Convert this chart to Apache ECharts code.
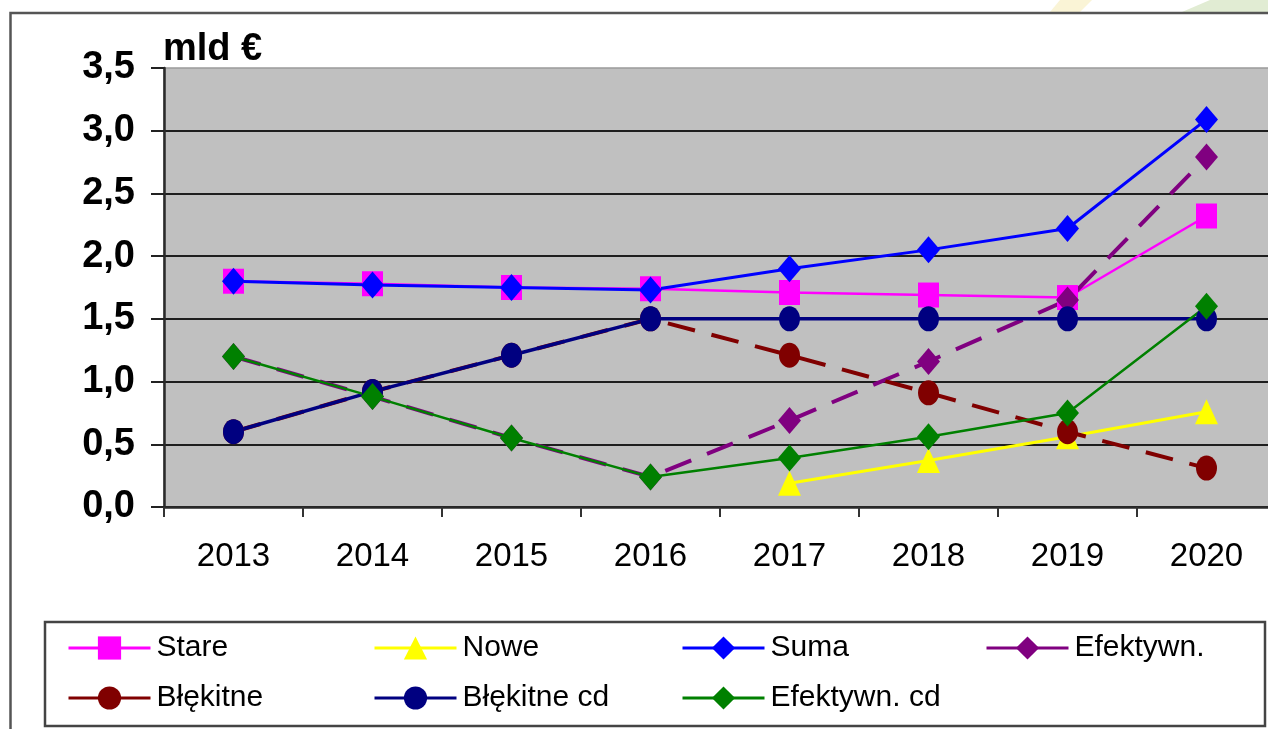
<!DOCTYPE html>
<html>
<head>
<meta charset="utf-8">
<title>mld €</title>
<script src="https://cdn.jsdelivr.net/npm/echarts@6/dist/echarts.min.js"></script>
<style>
  html, body { margin: 0; padding: 0; background: #fff; }
  #chart { width: 1268px; height: 729px; }
</style>
</head>
<body>
<div id="chart"></div>
<script>
// lata (oś X)
var years = ['2013', '2014', '2015', '2016', '2017', '2018', '2019', '2020'];
// etykiety osi Y
var yTickLabels = ['0,0', '0,5', '1,0', '1,5', '2,0', '2,5', '3,0', '3,5'];
// serie, mld €
var stare = [1.80, 1.78, 1.75, 1.74, 1.71, 1.69, 1.67, 2.32];
var nowe = [null, null, null, null, 0.19, 0.37, 0.56, 0.76];
var suma = [1.80, 1.77, 1.75, 1.73, 1.90, 2.05, 2.22, 3.09];
var efektywn = [1.20, 0.88, 0.55, 0.24, 0.69, 1.16, 1.65, 2.79];
var blekitne = [0.60, 0.92, 1.21, 1.50, 1.21, 0.91, 0.60, 0.31];
var blekitneCd = [0.60, 0.92, 1.21, 1.50, 1.50, 1.50, 1.50, 1.50];
var efektywnCd = [1.20, 0.88, 0.55, 0.24, 0.39, 0.56, 0.75, 1.60];

var FONT = 'Liberation Sans, Arial, sans-serif';

function lineSeries (name, data, color, symbol, size, width, dashed) {
  return {
    name: name,
    type: 'line',
    data: data,
    symbol: symbol,
    symbolSize: size,
    showAllSymbol: true,
    connectNulls: false,
    animation: false,
    lineStyle: {
      color: color,
      width: width,
      type: dashed ? [28, 17] : 'solid'
    },
    itemStyle: {
      color: color,
      borderWidth: 0
    }
  };
}

// legenda: 4 kolumny, 2 wiersze
function legendItem (name, left, top) {
  return {
    data: [name],
    left: left,
    top: top,
    padding: 0,
    itemWidth: 82,
    itemHeight: 29,
    selectedMode: false,
    lineStyle: { type: 'solid', width: 3 },
    textStyle: { color: '#000', fontSize: 30, fontFamily: FONT, padding: [0, 0, 0, 1] }
  };
}

var chart = echarts.init(document.getElementById('chart'));
chart.setOption({
  backgroundColor: '#fff',
  animation: false,
  grid: {
    left: 164,
    top: 68,
    width: 1112,
    height: 439,
    outerBoundsMode: 'none',
    show: true,
    backgroundColor: '#c0c0c0',
    borderColor: '#9a9a9a',
    borderWidth: 1.5
  },
  xAxis: {
    type: 'category',
    data: years,
    boundaryGap: true,
    axisLine: { lineStyle: { color: '#2a2a2a', width: 2.5 } },
    axisTick: { show: true, length: 10, lineStyle: { color: '#333', width: 2 } },
    axisLabel: { color: '#000', fontSize: 33, fontFamily: FONT, margin: 33 },
    splitLine: { show: false }
  },
  yAxis: {
    type: 'value',
    min: 0,
    max: 3.5,
    interval: 0.5,
    axisLine: { show: true, lineStyle: { color: '#2a2a2a', width: 2.5 } },
    axisTick: { show: true, length: 13, lineStyle: { color: '#222', width: 2 } },
    axisLabel: {
      color: '#000',
      fontSize: 38,
      fontWeight: 'bold',
      fontFamily: FONT,
      margin: 29,
      formatter: function (v) { return yTickLabels[Math.round(v / 0.5)]; }
    },
    splitLine: { show: true, showMaxLine: false, lineStyle: { color: '#1e1e1e', width: 2 } }
  },
  legend: [
    legendItem('Stare', 67, 633),
    legendItem('Nowe', 373, 633),
    legendItem('Suma', 681, 633),
    legendItem('Efektywn.', 985, 633),
    legendItem('Błękitne', 67, 683),
    legendItem('Błękitne cd', 373, 683),
    legendItem('Efektywn. cd', 681, 683)
  ],
  graphic: [
    // tło slajdu nad ramką
    { type: 'polygon', z: -10, shape: { points: [[1060, 0], [1092, 0], [1080, 12], [1050, 12]] }, style: { fill: '#faf4d6' } },
    { type: 'polygon', z: -10, shape: { points: [[1210, 0], [1268, 0], [1268, 12], [1182, 12]] }, style: { fill: '#e1ecd3' } },
    // ramka wykresu
    { type: 'rect', z: -5, shape: { x: 10.5, y: 13, width: 1300, height: 800 }, style: { fill: '#fff', stroke: '#555', lineWidth: 2.5 } },
    // ramka legendy
    { type: 'rect', z: -4, shape: { x: 45, y: 622, width: 1220, height: 104 }, style: { fill: '#fff', stroke: '#444', lineWidth: 2.5 } },
    // jednostka
    { type: 'text', z: 10, x: 163, y: 50, style: { text: 'mld €', fill: '#000', font: 'bold 38px ' + FONT, verticalAlign: 'middle' } }
  ],
  series: [
    lineSeries('Stare', stare, '#ff00ff', 'rect', [21, 25], 2.5, false),
    lineSeries('Nowe', nowe, '#ffff00', 'triangle', [23, 25], 3, false),
    lineSeries('Suma', suma, '#0000ff', 'diamond', [23, 27], 3, false),
    lineSeries('Efektywn.', efektywn, '#800080', 'diamond', [23, 27], 4, true),
    lineSeries('Błękitne', blekitne, '#800000', 'circle', [21, 25], 4, true),
    lineSeries('Błękitne cd', blekitneCd, '#000080', 'circle', [21, 25], 3.5, false),
    lineSeries('Efektywn. cd', efektywnCd, '#008000', 'diamond', [23, 27], 2.5, false)
  ]
});
</script>
</body>
</html>
